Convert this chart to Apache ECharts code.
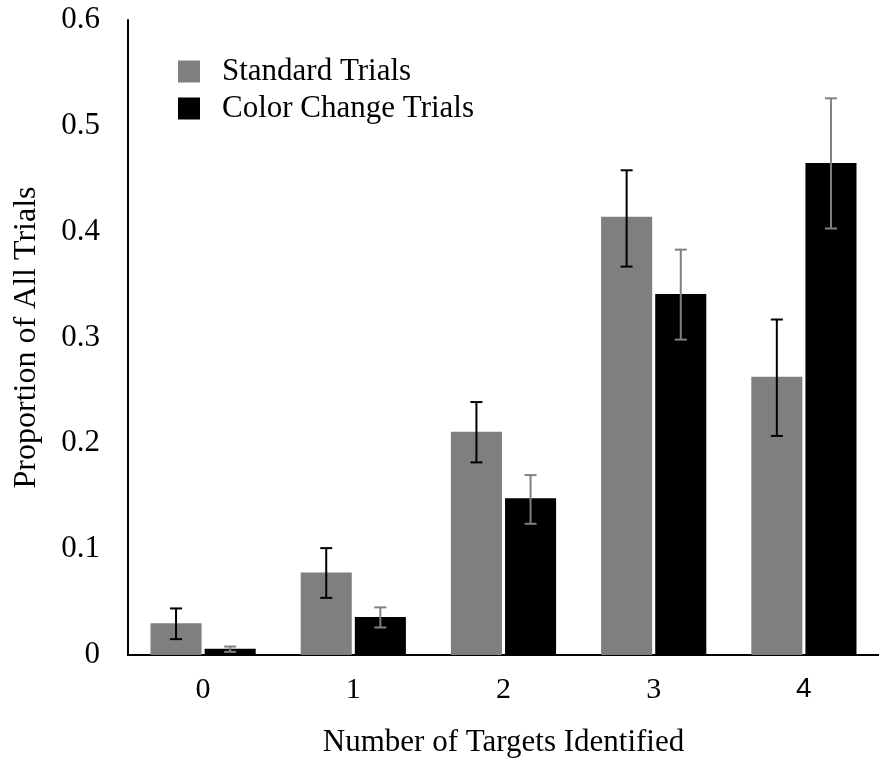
<!DOCTYPE html>
<html>
<head>
<meta charset="utf-8">
<script src="https://cdn.jsdelivr.net/npm/echarts@6/dist/echarts.min.js"></script>
<style>
  html, body { margin: 0; padding: 0; background: #fff; }
  #chart { width: 879px; height: 758px; }
</style>
</head>
<body>
<div id="chart"></div>
<script>
// Number of targets identified per trial
const categories = ['0', '1', '2', '3', '4'];

// Standard trials: mean proportion with error bar bounds
const standardMean = [0.030, 0.078, 0.211, 0.414, 0.263];
const standardLow  = [0.015, 0.054, 0.182, 0.367, 0.207];
const standardHigh = [0.044, 0.101, 0.239, 0.458, 0.317];

// Color change trials: mean proportion with error bar bounds
const colorMean = [0.006, 0.036, 0.148, 0.341, 0.465];
const colorLow  = [0.003, 0.026, 0.124, 0.298, 0.403];
const colorHigh = [0.008, 0.045, 0.170, 0.383, 0.526];

const yTicks = [0, 0.1, 0.2, 0.3, 0.4, 0.5, 0.6];

const SERIF = "'Liberation Serif', 'Times New Roman', Times, serif";
const BAR_FRAC = 0.34;
const GAP_FRAC = 0.06;

function errorData(low, high) {
  return categories.map((c, i) => [i, low[i], high[i]]);
}

function errorSeries(name, low, high, side, color) {
  return {
    type: 'custom',
    name: name,
    data: errorData(low, high),
    z: 10,
    silent: true,
    renderItem: function (params, api) {
      const idx = api.value(0);
      const band = api.size([1, 0])[0];
      const bw = band * BAR_FRAC;
      const offset = side * (bw + bw * GAP_FRAC) / 2;
      const x = api.coord([idx, 0])[0] + offset;
      const yLo = api.coord([idx, api.value(1)])[1];
      const yHi = api.coord([idx, api.value(2)])[1];
      const cap = 6;
      const style = { stroke: color, lineWidth: 2, fill: null };
      return {
        type: 'group',
        children: [
          { type: 'line', shape: { x1: x, y1: yHi, x2: x, y2: yLo }, style: style },
          { type: 'line', shape: { x1: x - cap, y1: yHi, x2: x + cap, y2: yHi }, style: style },
          { type: 'line', shape: { x1: x - cap, y1: yLo, x2: x + cap, y2: yLo }, style: style }
        ]
      };
    }
  };
}

const chart = echarts.init(document.getElementById('chart'), null, { renderer: 'canvas' });

chart.setOption({
  backgroundColor: '#ffffff',
  animation: false,
  textStyle: { fontFamily: SERIF, color: '#000' },
  grid: { left: 128, right: 0, top: 20, bottom: 103, containLabel: false, outerBoundsMode: 'none' },
  legend: {
    data: ['Standard Trials', 'Color Change Trials'],
    orient: 'vertical',
    left: 178,
    top: 56,
    padding: 0,
    itemWidth: 22,
    itemHeight: 22,
    itemGap: 6,
    icon: 'rect',
    textStyle: { fontFamily: SERIF, fontSize: 31, color: '#000', padding: [0, 0, 0, 17] }
  },
  xAxis: {
    type: 'category',
    data: categories,
    name: 'Number of Targets Identified',
    nameLocation: 'middle',
    nameGap: 72,
    nameTextStyle: { fontFamily: SERIF, fontSize: 31, color: '#000' },
    axisLine: { lineStyle: { color: '#000', width: 2 } },
    axisTick: { show: false },
    axisLabel: {
      fontFamily: SERIF,
      fontSize: 30,
      color: '#000',
      margin: 20,
      formatter: v => (v === '4' ? '{s|4}' : v),
      rich: { s: { fontFamily: "'Liberation Sans', Arial, sans-serif", fontSize: 28, color: '#000' } }
    }
  },
  yAxis: {
    type: 'value',
    min: yTicks[0],
    max: yTicks[yTicks.length - 1],
    interval: 0.1,
    name: 'Proportion of All Trials',
    nameLocation: 'middle',
    nameGap: 85,
    nameTextStyle: { fontFamily: SERIF, fontSize: 32, color: '#000' },
    axisLine: { show: true, lineStyle: { color: '#000', width: 2 } },
    axisTick: { show: false },
    splitLine: { show: false },
    axisLabel: {
      fontFamily: SERIF,
      fontSize: 31,
      color: '#000',
      margin: 28,
      formatter: v => (v === 0 ? '0' : v.toFixed(1))
    }
  },
  series: [
    {
      name: 'Standard Trials',
      type: 'bar',
      data: standardMean,
      barWidth: (BAR_FRAC * 100) + '%',
      barGap: (GAP_FRAC * 100) + '%',
      itemStyle: { color: '#7f7f7f' }
    },
    {
      name: 'Color Change Trials',
      type: 'bar',
      data: colorMean,
      barWidth: (BAR_FRAC * 100) + '%',
      barGap: (GAP_FRAC * 100) + '%',
      itemStyle: { color: '#000000' }
    },
    errorSeries('Standard Trials SE', standardLow, standardHigh, -1, '#000000'),
    errorSeries('Color Change Trials SE', colorLow, colorHigh, 1, '#808080')
  ]
});
</script>
</body>
</html>
